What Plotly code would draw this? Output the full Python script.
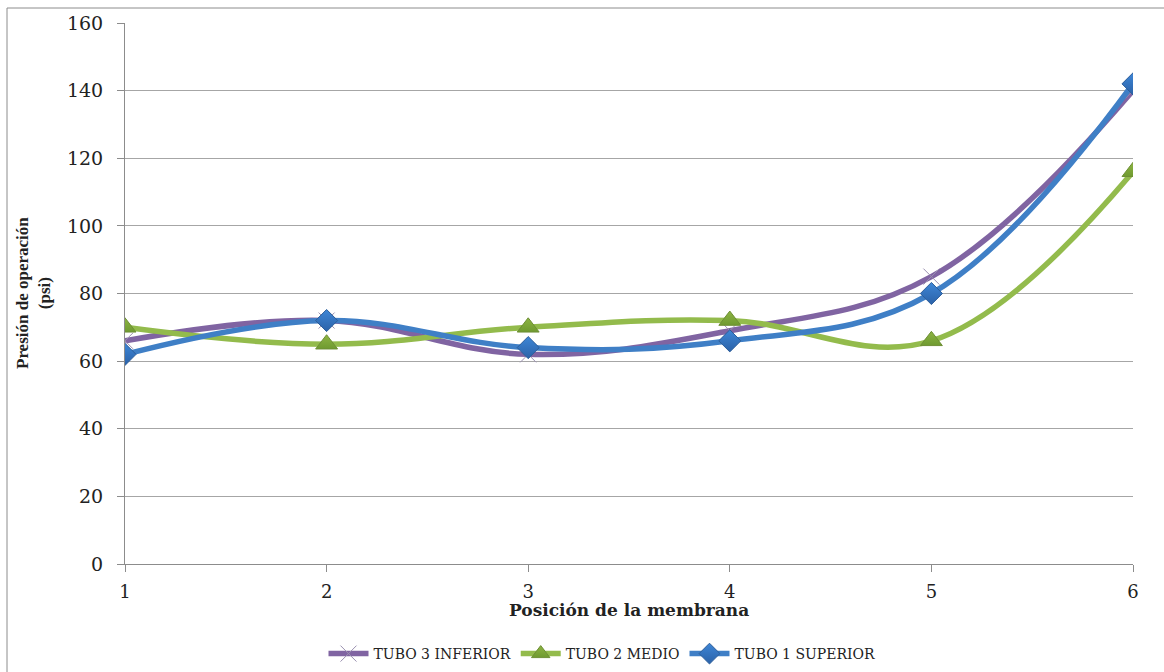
import plotly.graph_objects as go

# Membrane positions along each pressure tube
posiciones = [1, 2, 3, 4, 5, 6]

# Operating pressure (psi) per tube
tubo3_inferior = [66, 72, 62, 69, 85, 140]
tubo2_medio = [70, 65, 70, 72, 66, 116]
tubo1_superior = [62, 72, 64, 66, 80, 142]

y_ticks = [0, 20, 40, 60, 80, 100, 120, 140, 160]

PURPLE = "#8064A2"
GREEN = "#93BB4C"
BLUE = "#3F7FC6"

fig = go.Figure()

fig.add_trace(go.Scatter(
    x=posiciones, y=tubo3_inferior, name="TUBO 3 INFERIOR",
    mode="lines+markers", line=dict(color=PURPLE, width=5.5, shape="spline", smoothing=1.1),
    marker=dict(symbol="x-thin", size=16, line=dict(color="#9a90b0", width=1), color=PURPLE),
))
fig.add_trace(go.Scatter(
    x=posiciones, y=tubo2_medio, name="TUBO 2 MEDIO",
    mode="lines+markers", line=dict(color=GREEN, width=5.5, shape="spline", smoothing=1.1),
    marker=dict(symbol="triangle-up", size=19, color="#8DB443",
                line=dict(color="#6E8F35", width=1),
                gradient=dict(type="vertical", color="#6F9A30")),
))
fig.add_trace(go.Scatter(
    x=posiciones, y=tubo1_superior, name="TUBO 1 SUPERIOR",
    mode="lines+markers", line=dict(color=BLUE, width=5.5, shape="spline", smoothing=1.1),
    marker=dict(symbol="diamond", size=17, color="#3E86D6",
                line=dict(color="#2D5E9A", width=1),
                gradient=dict(type="vertical", color="#2B62A8")),
))

L, R, T, B = 125, 31, 23, 108
W, H = 1164, 672
pw, ph = W - L - R, H - T - B

def px_x(px):
    return (px - L) / pw

def px_y(py):
    return (H - B - py) / ph

fig.update_layout(
    width=W, height=H,
    margin=dict(l=L, r=R, t=T, b=B, autoexpand=False),
    paper_bgcolor="white", plot_bgcolor="white",
    font=dict(family="DejaVu Serif", color="#222"),
    showlegend=True,
    legend=dict(
        orientation="h", x=px_x(602), xanchor="center", y=px_y(654), yanchor="middle",
        font=dict(family="DejaVu Serif", size=14, color="#222"),
        itemwidth=40, tracegroupgap=0,
    ),
    xaxis=dict(
        range=[1, 6], tickvals=posiciones, showgrid=False, zeroline=False, automargin=False,
        showline=True, linecolor="#8c8c8c", linewidth=1,
        ticks="outside", ticklen=7, tickcolor="#8c8c8c", ticklabelstandoff=4,
        tickfont=dict(family="DejaVu Serif", size=18, color="#222"),
    ),
    yaxis=dict(
        range=[0, 160], tickvals=y_ticks, showgrid=True, gridcolor="#a6a6a6", gridwidth=1,
        zeroline=False, showline=True, linecolor="#8c8c8c", linewidth=1, automargin=False,
        ticks="outside", ticklen=7, tickcolor="#8c8c8c", ticklabelstandoff=10,
        tickfont=dict(family="DejaVu Serif", size=19, color="#222"),
    ),
    annotations=[
        dict(text="<b>Posición de la membrana</b>", xref="paper", yref="paper",
             x=px_x(629), y=px_y(610), xanchor="center", yanchor="middle", showarrow=False,
             font=dict(family="DejaVu Serif", size=17, color="#222")),
        dict(text="<b>Presión de operación<br>(psi)</b>", xref="paper", yref="paper",
             x=px_x(33), y=px_y(293), xanchor="center", yanchor="middle", showarrow=False,
             textangle=-90,
             font=dict(family="Liberation Serif", size=17, color="#222")),
    ],
    shapes=[
        dict(type="line", xref="paper", yref="paper", x0=px_x(7), x1=px_x(1170),
             y0=px_y(8), y1=px_y(8), line=dict(color="#8c8c8c", width=1)),
        dict(type="line", xref="paper", yref="paper", x0=px_x(7), x1=px_x(7),
             y0=px_y(8), y1=px_y(680), line=dict(color="#8c8c8c", width=1)),
    ],
)

fig.write_html("out.html")
